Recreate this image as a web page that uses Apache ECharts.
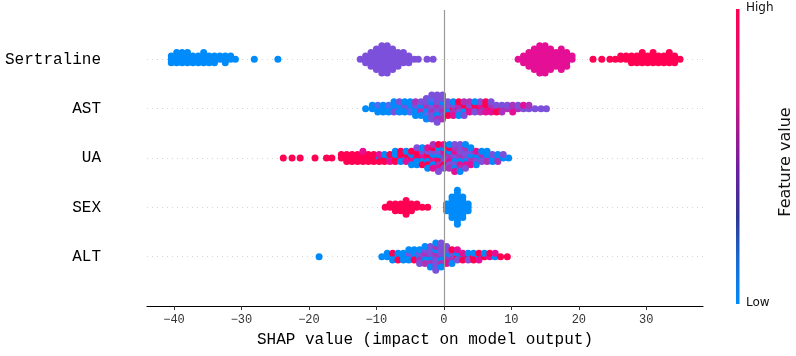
<!DOCTYPE html>
<html>
<head>
<meta charset="utf-8">
<script src="https://cdn.jsdelivr.net/npm/echarts@6/dist/echarts.min.js"></script>
<style>
  html, body { margin: 0; padding: 0; background: #fff; }
  #plot { width: 796px; height: 356px; }
</style>
</head>
<body>
<div id="plot"></div>
<script>
// features, top row first
var features = ['Sertraline', 'AST', 'UA', 'SEX', 'ALT'];
var xTicks = [-40, -30, -20, -10, 0, 10, 20, 30];

// feature value of a dot, by letter (b = low ... r = high)
var featureCodes = { b: 0, c: 0.25, v: 0.5, m: 0.62, p: 0.75, r: 1 };

// every feature: SHAP value of each column of dots, and one letter per dot in that column
var sertralineShap = [-40.4, -39.6, -38.8, -38.0, -37.2, -36.4, -35.6, -34.8, -34.0, -33.2, -32.4, -31.6, -30.9, -28.1, -24.6,
  -12.4, -11.6, -10.8, -10.0, -9.2, -8.4, -7.6, -6.8, -6.0, -5.2, -4.4, -3.8, -2.5, -1.6,
  11.0, 11.8, 12.6, 13.4, 14.2, 15.0, 15.8, 16.6, 17.4, 18.2, 19.0,
  22.1, 23.4, 24.6, 25.4, 26.2, 27.0, 27.8, 28.6, 29.4, 30.2, 31.0, 31.8, 32.6, 33.4, 34.2, 35.0];
var sertralineDots = ['bbb', 'bbbb', 'bbbb', 'bbbb', 'bbb', 'bbb', 'bbbb', 'bbb', 'bbb', 'bb', 'bbb', 'bb', 'b', 'b', 'b',
  'v', 'vvv', 'vvvvv', 'vvvvvvv', 'vvvvvvvvv', 'vvvvvvvvv', 'vvvvvvv', 'vvvvv', 'vvvv', 'vvv', 'v', 'v', 'v', 'v',
  'p', 'ppp', 'ppppp', 'ppppppp', 'ppppppppp', 'ppppppppp', 'ppppppp', 'ppppp', 'ppppppp', 'ppppp', 'pp',
  'r', 'r', 'r', 'r', 'rr', 'rr', 'rrr', 'rrr', 'rrrr', 'rrr', 'rrrr', 'rrr', 'rrr', 'rrrr', 'rrr', 'r'];

var astShap = [-11.6, -10.6, -9.8, -9.0, -8.2, -7.4, -6.6, -5.8, -5.0, -4.2, -3.4, -2.6, -1.8, -1.0, -0.2, 0.6, 1.4,
  2.2, 3.0, 3.8, 4.6, 5.4, 6.2, 7.0, 7.8, 8.6, 9.4, 10.2, 11.0, 11.8, 12.6, 13.5, 14.4, 15.2];
var astDots = ['b', 'bb', 'bcb', 'bbb', 'bcb', 'bbvb', 'cbbv', 'bvbb', 'vbcb', 'bvbmb', 'vbmvb', 'vmbvcvb', 'vvmbvcvv',
  'vmvvbvmvv', 'vvmbvvmv', 'mvbvr', 'rvmbp', 'pmvrb', 'vrbmv', 'rvpm', 'mrvb', 'rpmv', 'vrpr', 'rmpv', 'mvr', 'rvm',
  'mv', 'vmp', 'mv', 'vp', 'vm', 'v', 'v', 'v'];

var uaShap = [-23.8, -22.5, -21.3, -19.1, -17.4, -16.6, -15.2, -14.4, -13.6, -12.8, -12.0, -11.2, -10.4, -9.6, -8.8,
  -8.0, -7.2, -6.4, -5.6, -4.8, -4.0, -3.2, -2.4, -1.6, -0.8, 0.0, 0.8, 1.6, 2.4, 3.2, 4.0, 4.8, 5.6, 6.4, 7.2, 8.0, 8.8, 9.6];
var uaDots = ['r', 'r', 'r', 'r', 'r', 'r', 'rr', 'rrr', 'rrr', 'rrr', 'rrrp', 'rrr', 'rrr', 'bpr', 'rbr',
  'brp', 'rbrb', 'prbr', 'brpb', 'rbprb', 'prbrbv', 'rpbvrb', 'prbvrpb', 'rbpvbrpm', 'pbrvmbprv', 'bmvprbvp', 'vmpbvrmb',
  'mvbpvmbvp', 'vmbvpvmvb', 'mvbvpmvb', 'vbmvpb', 'mbvpb', 'bmvb', 'vbmb', 'bvb', 'vbm', 'bv', 'b'];

var sexShap = [-8.7, -8.0, -7.2, -6.4, -5.6, -4.8, -4.0, -3.2, -2.4, 0.4, 1.2, 2.0, 2.8, 3.6];
var sexDots = ['r', 'rr', 'rrr', 'rrr', 'rrrrr', 'rrr', 'rr', 'r', 'r',
  'bbb', 'bbbbbbb', 'bbbbbbbbbbb', 'bbbbbbb', 'bbb'];

var altShap = [-18.5, -9.2, -8.4, -7.6, -6.8, -6.0, -5.2, -4.4, -3.6, -2.8, -2.0, -1.2, -0.4, 0.4, 1.2, 2.0, 2.8,
  3.6, 4.4, 5.2, 6.0, 6.8, 7.6, 8.4, 9.4];
var altDots = ['b', 'b', 'bb', 'brb', 'bbr', 'bbb', 'bvbb', 'vbrb', 'bvmbv', 'vmbvmb', 'mvbvmvb', 'vmvbvmvbv', 'mvbvmvbv',
  'vbmvpv', 'bvmrb', 'rbvp', 'bpr', 'rbv', 'rbr', 'brp', 'rb', 'pr', 'bp', 'r', 'r'];

// beeswarm: dots of one column are stacked 0, +1, -1, +2, -2 ... layers around the row
var layerStep = 0.069;

function swarm(row, shapList, dotList) {
  var pts = [];
  shapList.forEach(function (x, i) {
    var s = dotList[i];
    for (var k = 0; k < s.length; k++) {
      var layer = Math.ceil(k / 2) * (k % 2 ? 1 : -1);
      pts.push([x, row + layer * layerStep, featureCodes[s[k]]]);
    }
  });
  return pts;
}

// row 4 is the top one
var points = [].concat(
  swarm(4, sertralineShap, sertralineDots),
  swarm(3, astShap, astDots),
  swarm(2, uaShap, uaDots),
  swarm(1, sexShap, sexDots),
  swarm(0, altShap, altDots)
);

var myChart = echarts.init(document.getElementById('plot'));

var option = {
  animation: false,
  grid: { left: 147, right: 93, top: 10, bottom: 50 },
  xAxis: {
    type: 'value',
    min: -44,
    max: 38.4,
    name: 'SHAP value (impact on model output)',
    nameLocation: 'middle',
    nameGap: 26,
    nameTextStyle: { fontFamily: 'Liberation Mono', fontSize: 16, color: '#000' },
    axisLine: { onZero: false, lineStyle: { color: '#000', width: 1.2 } },
    axisTick: { length: 4, customValues: xTicks, lineStyle: { color: '#333' } },
    axisLabel: {
      customValues: xTicks,
      margin: 8,
      fontFamily: 'Liberation Mono',
      fontSize: 12,
      color: '#333',
      formatter: function (v) { return v < 0 ? '\u2212' + (-v) : String(v); }
    },
    splitLine: { show: false }
  },
  yAxis: {
    type: 'value',
    min: -1,
    max: 5,
    interval: 1,
    axisLine: { show: false },
    axisTick: { show: false },
    axisLabel: {
      margin: 46,
      fontFamily: 'Liberation Mono',
      fontSize: 16,
      color: '#000',
      formatter: function (v) { return features[4 - v] || ''; }
    },
    splitLine: {
      show: true,
      showMinLine: false,
      showMaxLine: false,
      lineStyle: { color: '#cccccc', width: 0.8, type: [1, 4] }
    }
  },
  visualMap: {
    show: false,
    type: 'continuous',
    dimension: 2,
    min: 0,
    max: 1,
    seriesIndex: 0,
    inRange: { color: ['#008bfb', '#4d6cef', '#7c50da', '#e50f96', '#ff0052'] }
  },
  series: [{
    type: 'scatter',
    data: points,
    symbolSize: 7,
    silent: true,
    itemStyle: { opacity: 1 },
    markLine: {
      silent: true,
      symbol: 'none',
      label: { show: false },
      lineStyle: { color: '#999999', width: 1.2, type: 'solid' },
      data: [{ xAxis: 0 }]
    }
  }],
  graphic: [
    {
      type: 'rect',
      shape: { x: 736, y: 9, width: 3.5, height: 295 },
      style: {
        fill: new echarts.graphic.LinearGradient(0, 0, 0, 1, [
          { offset: 0, color: '#ff0052' },
          { offset: 0.3, color: '#d0157f' },
          { offset: 0.55, color: '#6a1fa0' },
          { offset: 0.7, color: '#2f3590' },
          { offset: 0.85, color: '#1a6ad0' },
          { offset: 1, color: '#008bfb' }
        ])
      }
    },
    { type: 'text', x: 746, y: 2, style: { text: 'High', font: '12px "DejaVu Sans"', fill: '#111' } },
    { type: 'text', x: 746, y: 297, style: { text: 'Low', font: '12px "DejaVu Sans"', fill: '#111' } },
    {
      type: 'text', x: 786, y: 162, rotation: Math.PI / 2,
      style: { text: 'Feature value', font: '16px "DejaVu Sans"', fill: '#111', align: 'center', verticalAlign: 'middle' }
    }
  ]
};

myChart.setOption(option);
</script>
</body>
</html>
